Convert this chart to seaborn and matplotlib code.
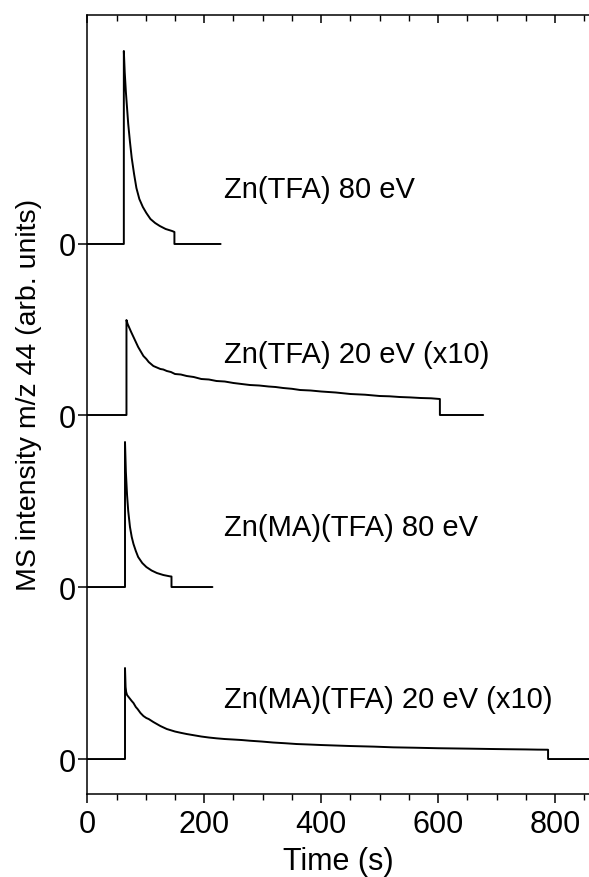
import numpy as np
import pandas as pd
import matplotlib
matplotlib.use("Agg")
import matplotlib.pyplot as plt
import seaborn as sns

# temps (s) et intensités (unités arbitraires)
t_tfa80 = [0, 62.5, 62.5, 64, 66, 68, 70, 73, 76, 80, 84, 89, 95, 101, 108, 116, 124, 134, 145, 149, 149, 228]
i_tfa80 = [0, 0, 1.93, 1.72, 1.52, 1.36, 1.20, 1.02, 0.86, 0.70, 0.56, 0.45, 0.37, 0.31, 0.25, 0.21, 0.18, 0.15, 0.13, 0.12, 0, 0]

t_tfa20 = [0, 67, 67, 69, 72, 75, 79, 83, 87, 92, 96, 101, 105, 109, 113, 119, 125, 130, 136, 143, 150, 160,
           170, 182, 195, 208, 221, 235, 250, 264, 278, 294, 310, 322, 335, 350, 364, 382, 400, 425, 450,
           475, 500, 517, 534, 552, 570, 588, 603, 603, 677]
i_tfa20 = [0, 0, 0.95, 0.91, 0.87, 0.83, 0.78, 0.73, 0.68, 0.63, 0.59, 0.56, 0.53, 0.51, 0.49, 0.475, 0.46, 0.455,
           0.44, 0.43, 0.41, 0.405, 0.39, 0.38, 0.36, 0.355, 0.34, 0.335, 0.32, 0.31, 0.30, 0.295, 0.285, 0.28,
           0.27, 0.262, 0.25, 0.245, 0.235, 0.225, 0.21, 0.203, 0.19, 0.187, 0.18, 0.176, 0.17, 0.167, 0.16, 0, 0]

t_ma80 = [0, 64.5, 64.5, 66, 68, 70, 73, 76, 79, 83, 87, 94, 101, 110, 119, 130, 141, 144, 144, 214]
i_ma80 = [0, 0, 1.45, 1.15, 0.92, 0.76, 0.60, 0.50, 0.43, 0.36, 0.30, 0.24, 0.20, 0.165, 0.14, 0.12, 0.107, 0.105, 0, 0]

t_ma20 = [0, 64.5, 64.5, 65.5, 66.5, 68, 72, 76, 79, 83, 86, 91, 96, 101, 105, 113, 119, 125, 136, 150, 160,
          170, 182, 195, 208, 221, 235, 250, 264, 278, 298, 318, 338, 358, 380, 400, 425, 450, 490, 523, 560,
          600, 650, 694, 720, 750, 770, 788, 788, 860]
i_ma20 = [0, 0, 0.91, 0.72, 0.67, 0.64, 0.61, 0.58, 0.56, 0.52, 0.50, 0.46, 0.43, 0.41, 0.40, 0.37, 0.35, 0.33,
          0.30, 0.275, 0.262, 0.25, 0.238, 0.225, 0.215, 0.207, 0.2, 0.195, 0.19, 0.183, 0.175, 0.165, 0.158,
          0.15, 0.145, 0.14, 0.135, 0.13, 0.124, 0.117, 0.113, 0.108, 0.104, 0.10, 0.098, 0.096, 0.094, 0.093, 0, 0]

labels = ["Zn(TFA) 80 eV", "Zn(TFA) 20 eV (x10)", "Zn(MA)(TFA) 80 eV", "Zn(MA)(TFA) 20 eV (x10)"]
offsets = [5.15, 3.44, 1.72, 0.0]
label_y = [5.70, 4.05, 2.32, 0.60]

series = [(t_tfa80, i_tfa80), (t_tfa20, i_tfa20), (t_ma80, i_ma80), (t_ma20, i_ma20)]

sns.set_theme(style="ticks")
plt.rcParams["font.family"] = ["Liberation Sans", "DejaVu Sans"]
for k in ["text.color", "axes.labelcolor", "xtick.color", "ytick.color", "axes.edgecolor"]:
    plt.rcParams[k] = "black"

fig = plt.figure(figsize=(5.89, 8.78), dpi=100)
ax = fig.add_axes([0.1482, 0.0945, 0.8518, 0.8873])

for (t, i), off, lab, ly in zip(series, offsets, labels, label_y):
    df = pd.DataFrame({"t": t, "y": np.array(i) + off})
    sns.lineplot(data=df, x="t", y="y", ax=ax, color="black", lw=1.4,
                 estimator=None, sort=False)
    ax.text(234, ly, lab, fontsize=21, ha="left", va="center", color="black")

ax.set_xlim(0, 858)
ax.set_ylim(-0.35, 7.44)
ax.set_xticks([0, 200, 400, 600, 800])
ax.set_xticks(np.arange(0, 851, 50), minor=True)
ax.set_yticks(offsets)
ax.set_yticklabels(["0"] * 4)

ax.tick_params(axis="x", which="major", direction="out", length=6.5, width=1.1,
               labelsize=22, pad=4, top=False)
ax.tick_params(axis="x", which="minor", direction="out", length=4, width=1.0, top=False)
ax.tick_params(axis="y", which="major", direction="out", length=6.5, width=1.1,
               labelsize=22, pad=2)

top = ax.secondary_xaxis("top")
top.set_xticks([0, 200, 400, 600, 800])
top.set_xticks(np.arange(0, 851, 50), minor=True)
top.tick_params(which="major", direction="in", length=6, width=1.1, labeltop=False)
top.tick_params(which="minor", direction="in", length=4, width=1.0)
top.spines["top"].set_linewidth(1.1)

for s in ["left", "bottom"]:
    ax.spines[s].set_linewidth(1.1)
ax.spines["right"].set_visible(False)
ax.spines["top"].set_visible(False)

ax.set_xlabel("Time (s)", fontsize=22, labelpad=5)
ax.set_ylabel("MS intensity m/z 44 (arb. units)", fontsize=20.5)
ax.yaxis.set_label_coords(-0.090, 0.513)

fig.savefig("out.png", dpi=100)
